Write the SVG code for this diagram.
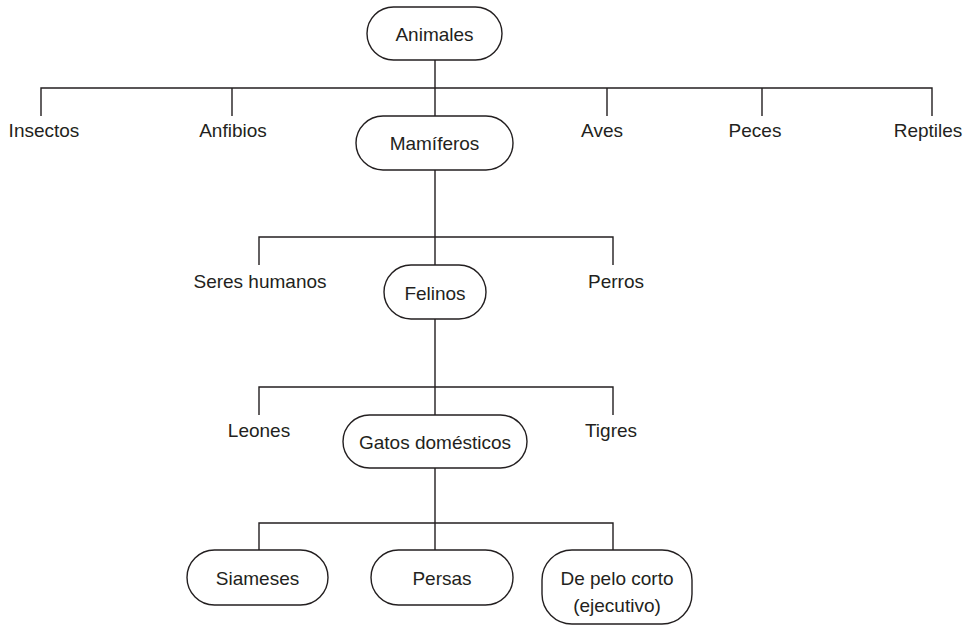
<svg xmlns="http://www.w3.org/2000/svg" width="965" height="626" viewBox="0 0 965 626">
<style>
.box{fill:#fff;stroke:#231f20;stroke-width:1.4}
.ln{fill:none;stroke:#231f20;stroke-width:1.4}
text{font-family:"Liberation Sans",Arial,sans-serif;font-size:19px;fill:#231f20;text-anchor:middle}
</style>
<rect width="965" height="626" fill="#fff"/>
<g id="connectors" class="ln">
<path d="M435 60V116M41 116V88H932V116M232 88V116M607 88V116M762 88V116"/>
<path d="M435 170V265M259 265V237H613V265"/>
<path d="M435 319V415M259 415V387H613V415"/>
<path d="M435 468V550M259 550V523H613V550"/>
</g>
<g id="animales"><rect class="box" x="367" y="7" width="135" height="53" rx="26.5"/><text x="434.5" y="41">Animales</text></g>
<g id="insectos"><text x="44" y="137">Insectos</text></g>
<g id="anfibios"><text x="233" y="137">Anfibios</text></g>
<g id="mamiferos"><rect class="box" x="356" y="116" width="157" height="54" rx="27"/><text x="434.5" y="150">Mamíferos</text></g>
<g id="aves"><text x="602" y="137">Aves</text></g>
<g id="peces"><text x="755" y="137">Peces</text></g>
<g id="reptiles"><text x="928" y="137">Reptiles</text></g>
<g id="seres-humanos"><text x="260" y="288">Seres humanos</text></g>
<g id="felinos"><rect class="box" x="384" y="265" width="102" height="54" rx="27"/><text x="435" y="300">Felinos</text></g>
<g id="perros"><text x="616" y="288">Perros</text></g>
<g id="leones"><text x="259" y="437">Leones</text></g>
<g id="gatos"><rect class="box" x="343" y="415" width="184" height="53" rx="26.5"/><text x="435" y="449">Gatos domésticos</text></g>
<g id="tigres"><text x="611" y="437">Tigres</text></g>
<g id="siameses"><rect class="box" x="187" y="550" width="141" height="55" rx="27.5"/><text x="257.5" y="585">Siameses</text></g>
<g id="persas"><rect class="box" x="371" y="550" width="142" height="55" rx="27.5"/><text x="442" y="585">Persas</text></g>
<g id="pelo-corto"><rect class="box" x="542" y="550" width="150" height="74" rx="30"/><text x="617" y="585">De pelo corto</text><text x="617" y="612">(ejecutivo)</text></g>
</svg>
